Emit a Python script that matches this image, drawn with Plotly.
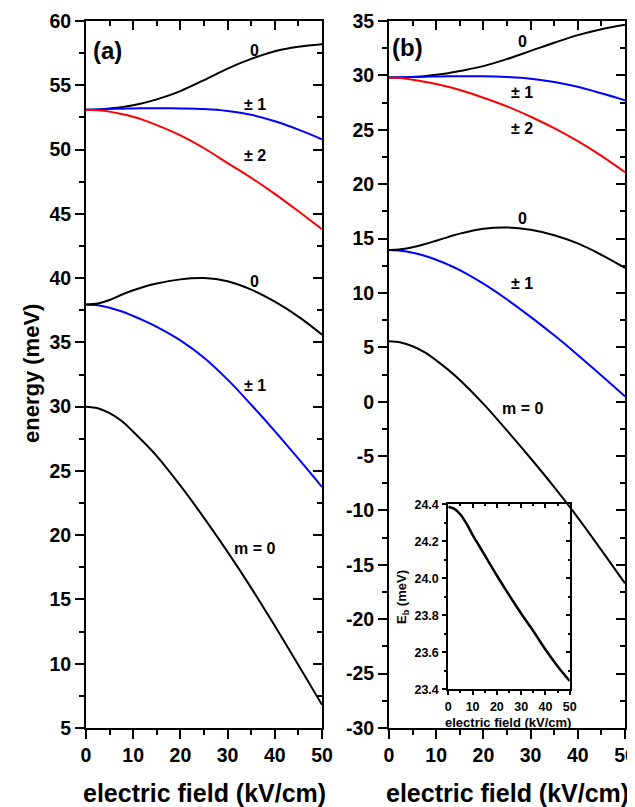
import plotly.graph_objects as go

# ---------------- data ----------------
field = [0, 2.5, 5, 7.5, 10, 12.5, 15, 20, 25, 30, 35, 40, 45, 50]

# panel (a)
a_m0_low = [30.0, 29.88, 29.5, 28.9, 28.05, 27.13, 26.15, 23.85, 21.35, 18.7, 15.9, 12.95, 9.9, 6.8]
a_m1_mid = [37.95, 37.89, 37.7, 37.42, 37.05, 36.65, 36.2, 35.15, 33.8, 32.1, 30.15, 28.1, 25.95, 23.75]
a_m0_mid = [37.95, 38.03, 38.3, 38.7, 39.05, 39.35, 39.58, 39.9, 40.0, 39.75, 39.1, 38.16, 37.0, 35.6]
a_m0_top = [53.1, 53.12, 53.2, 53.3, 53.45, 53.65, 53.9, 54.55, 55.4, 56.3, 57.05, 57.65, 58.0, 58.2]
a_m1_top = [53.1, 53.12, 53.15, 53.18, 53.2, 53.21, 53.22, 53.2, 53.15, 53.0, 52.7, 52.2, 51.55, 50.8]
a_m2_top = [53.1, 53.06, 52.95, 52.77, 52.55, 52.25, 51.9, 51.1, 50.1, 48.95, 47.8, 46.55, 45.2, 43.8]

# panel (b)
b_m0_low = [5.55, 5.45, 5.1, 4.55, 3.8, 2.95, 2.0, -0.2, -2.65, -5.2, -7.85, -10.65, -13.65, -16.7]
b_m1_mid = [13.95, 13.88, 13.7, 13.42, 13.05, 12.6, 12.1, 10.85, 9.4, 7.8, 6.1, 4.3, 2.4, 0.5]
b_m0_mid = [13.95, 14.02, 14.2, 14.48, 14.8, 15.13, 15.45, 15.9, 16.02, 15.8, 15.3, 14.55, 13.5, 12.3]
b_m0_top = [29.8, 29.81, 29.85, 29.93, 30.05, 30.2, 30.4, 30.85, 31.5, 32.25, 33.0, 33.7, 34.25, 34.65]
b_m1_top = [29.8, 29.82, 29.85, 29.88, 29.9, 29.91, 29.92, 29.92, 29.85, 29.7, 29.4, 28.95, 28.35, 27.7]
b_m2_top = [29.8, 29.75, 29.6, 29.42, 29.2, 28.95, 28.65, 27.95, 27.15, 26.2, 25.15, 23.95, 22.6, 21.1]

# inset: binding energy
inset_eb = [24.387, 24.375, 24.345, 24.295, 24.235, 24.18, 24.125, 24.015, 23.91, 23.81,
            23.715, 23.615, 23.525, 23.445]

# tick labels
x_ticks = [0, 10, 20, 30, 40, 50]
a_yticks = [5, 10, 15, 20, 25, 30, 35, 40, 45, 50, 55, 60]
b_yticks = [-30, -25, -20, -15, -10, -5, 0, 5, 10, 15, 20, 25, 30, 35]
b_yticklabels = ["-30", "-25", "-20", "-15", "-10", "-5", "0", "5", "10", "15", "20", "25", "30", "35"]
i_yticks = [23.4, 23.6, 23.8, 24.0, 24.2, 24.4]
i_yticklabels = ["23.4", "23.6", "23.8", "24.0", "24.2", "24.4"]

BLACK, BLUE, RED = "#000000", "#0000ff", "#ff0000"
FONT = "Liberation Sans"

fig = go.Figure()

def line(y, color, xa, ya, w=2):
    fig.add_trace(go.Scatter(x=field, y=y, mode="lines",
                             line=dict(color=color, width=w, shape="spline", smoothing=1.0),
                             xaxis=xa, yaxis=ya, showlegend=False, hoverinfo="skip"))

for y, c in [(a_m0_low, BLACK), (a_m1_mid, BLUE), (a_m0_mid, BLACK),
             (a_m0_top, BLACK), (a_m1_top, BLUE), (a_m2_top, RED)]:
    line(y, c, "x", "y")
for y, c in [(b_m0_low, BLACK), (b_m1_mid, BLUE), (b_m0_mid, BLACK),
             (b_m0_top, BLACK), (b_m1_top, BLUE), (b_m2_top, RED)]:
    line(y, c, "x3", "y3")
line(inset_eb, BLACK, "x5", "y5", w=2.5)

# invisible traces so the mirror (top/right) axes are drawn
for xa, ya, yr in [("x2", "y2", [5, 60]), ("x4", "y4", [-30, 35]), ("x6", "y6", [23.4, 24.4])]:
    fig.add_trace(go.Scatter(x=[0, 50], y=yr, mode="lines", opacity=0,
                             line=dict(width=1, color="white"),
                             xaxis=xa, yaxis=ya, showlegend=False, hoverinfo="skip"))

# the page body has an 8px margin: the figure starts at (8, 8) in the window
OFF = 8
W, H = 635 - OFF, 807 - OFF
def px(x):
    return (x - OFF) / W
def py(y):
    return 1 - (y - OFF) / H

tickfont = dict(family=FONT, size=19.5, color="black", weight="bold")
smallfont = dict(family=FONT, size=12.5, color="black", weight="bold")

def base_axis(rng, dtick, mdtick, domain, anchor, tlen=9, mlen=5, font=tickfont,
              tickvals=None, ticktext=None, standoff=None):
    d = dict(range=rng, dtick=dtick, tick0=0, domain=domain, anchor=anchor, automargin=False,
             showgrid=False, zeroline=False, showline=True, linecolor="black", linewidth=2,
             ticks="outside", ticklen=tlen, tickwidth=2, tickcolor="black",
             minor=dict(dtick=mdtick, tick0=0, ticks="outside", ticklen=mlen, tickwidth=2, tickcolor="black"),
             showticklabels=True, tickfont=font, fixedrange=True, ticklabeloverflow="allow")
    if tickvals is not None:
        d.update(tickmode="array", tickvals=tickvals, ticktext=ticktext)
    if standoff is not None:
        d.update(ticklabelstandoff=standoff)
    return d

def mirror_axis(rng, dtick, mdtick, over, side, anchor, tlen=9, mlen=5):
    return dict(range=rng, dtick=dtick, tick0=0, overlaying=over, side=side, anchor=anchor,
                automargin=False,
                showgrid=False, zeroline=False, showline=True, linecolor="black", linewidth=2,
                ticks="inside", ticklen=tlen, tickwidth=2, tickcolor="black",
                minor=dict(dtick=mdtick, tick0=0, ticks="inside", ticklen=mlen, tickwidth=2, tickcolor="black"),
                showticklabels=False, fixedrange=True)

yd = [py(728), py(21)]
xa_dom = [px(86), px(322)]
xb_dom = [px(389), px(625)]
xi_dom = [px(448.3), px(569.7)]
yi_dom = [py(689.3), py(504.3)]

fig.update_layout(
    template="none",
    width=W, height=H, margin=dict(l=0, r=0, t=0, b=0, pad=0, autoexpand=False),
    paper_bgcolor="white", plot_bgcolor="rgba(0,0,0,0)",
    xaxis=base_axis([0, 50], 10, 5, xa_dom, "y", tickvals=x_ticks, ticktext=[str(v) for v in x_ticks]),
    yaxis=base_axis([5, 60], 5, 2.5, yd, "x", tickvals=a_yticks, ticktext=[str(v) for v in a_yticks]),
    xaxis2=mirror_axis([0, 50], 10, 5, "x", "top", "y"),
    yaxis2=mirror_axis([5, 60], 5, 2.5, "y", "right", "x"),
    xaxis3=base_axis([0, 50], 10, 5, xb_dom, "y3", tickvals=x_ticks, ticktext=[str(v) for v in x_ticks]),
    yaxis3=base_axis([-30, 35], 5, 2.5, yd, "x3", tickvals=b_yticks, ticktext=b_yticklabels),
    xaxis4=mirror_axis([0, 50], 10, 5, "x3", "top", "y3"),
    yaxis4=mirror_axis([-30, 35], 5, 2.5, "y3", "right", "x3"),
    xaxis5=base_axis([0, 50], 10, 5, xi_dom, "y5", tlen=4, mlen=2, font=smallfont,
                     tickvals=x_ticks, ticktext=[str(v) for v in x_ticks], standoff=1),
    yaxis5=base_axis([23.4, 24.4], 0.2, 0.1, yi_dom, "x5", tlen=4, mlen=2, font=smallfont,
                     tickvals=i_yticks, ticktext=i_yticklabels, standoff=1),
    xaxis6=mirror_axis([0, 50], 10, 5, "x5", "top", "y5", tlen=4, mlen=2),
    yaxis6=mirror_axis([23.4, 24.4], 0.2, 0.1, "y5", "right", "x5", tlen=4, mlen=2),
)

lab = dict(family=FONT, size=16, color="black", weight="bold")
panel = dict(family=FONT, size=24, color="black", weight="bold")
title = dict(family=FONT, size=22, color="black", weight="bold")
xtitle = dict(family=FONT, size=25, color="black", weight="bold")

ann = [
    # panel (a)
    dict(text="(a)", x=4.45, y=57.74, xref="x", yref="y", font=panel),
    dict(text="0", x=35.8, y=57.74, xref="x", yref="y", font=lab),
    dict(text="± 1", x=35.8, y=53.54, xref="x", yref="y", font=lab),
    dict(text="± 2", x=35.8, y=49.5, xref="x", yref="y", font=lab),
    dict(text="0", x=35.8, y=39.77, xref="x", yref="y", font=lab),
    dict(text="± 1", x=35.8, y=31.67, xref="x", yref="y", font=lab),
    dict(text="m = 0", x=35.8, y=18.97, xref="x", yref="y", font=lab),
    # panel (b)
    dict(text="(b)", x=4.0, y=32.58, xref="x3", yref="y3", font=panel),
    dict(text="0", x=28.25, y=33.07, xref="x3", yref="y3", font=lab),
    dict(text="± 1", x=28.25, y=28.42, xref="x3", yref="y3", font=lab),
    dict(text="± 2", x=28.25, y=25.1, xref="x3", yref="y3", font=lab),
    dict(text="0", x=28.25, y=16.83, xref="x3", yref="y3", font=lab),
    dict(text="± 1", x=28.25, y=10.86, xref="x3", yref="y3", font=lab),
    dict(text="m = 0", x=28.25, y=-0.64, xref="x3", yref="y3", font=lab),
    # axis titles
    dict(text="energy (meV)", x=px(31), y=py(374), xref="paper", yref="paper",
         textangle=-90, font=title),
    dict(text="electric field (kV/cm)", x=px(204), y=py(793), xref="paper", yref="paper", font=xtitle),
    dict(text="electric field (kV/cm)", x=px(507), y=py(793), xref="paper", yref="paper", font=xtitle),
    # inset titles
    dict(text="E<sub>b</sub> (meV)", x=px(402), y=py(597), xref="paper", yref="paper",
         textangle=-90, font=dict(family=FONT, size=13, color="black", weight="bold")),
    dict(text="electric field (kV/cm)", x=px(508), y=py(722), xref="paper", yref="paper",
         font=dict(family=FONT, size=13, color="black", weight="bold")),
]
for a in ann:
    a.update(showarrow=False, xanchor="center", yanchor="middle")
fig.update_layout(annotations=ann)

fig.write_html("out.html")
